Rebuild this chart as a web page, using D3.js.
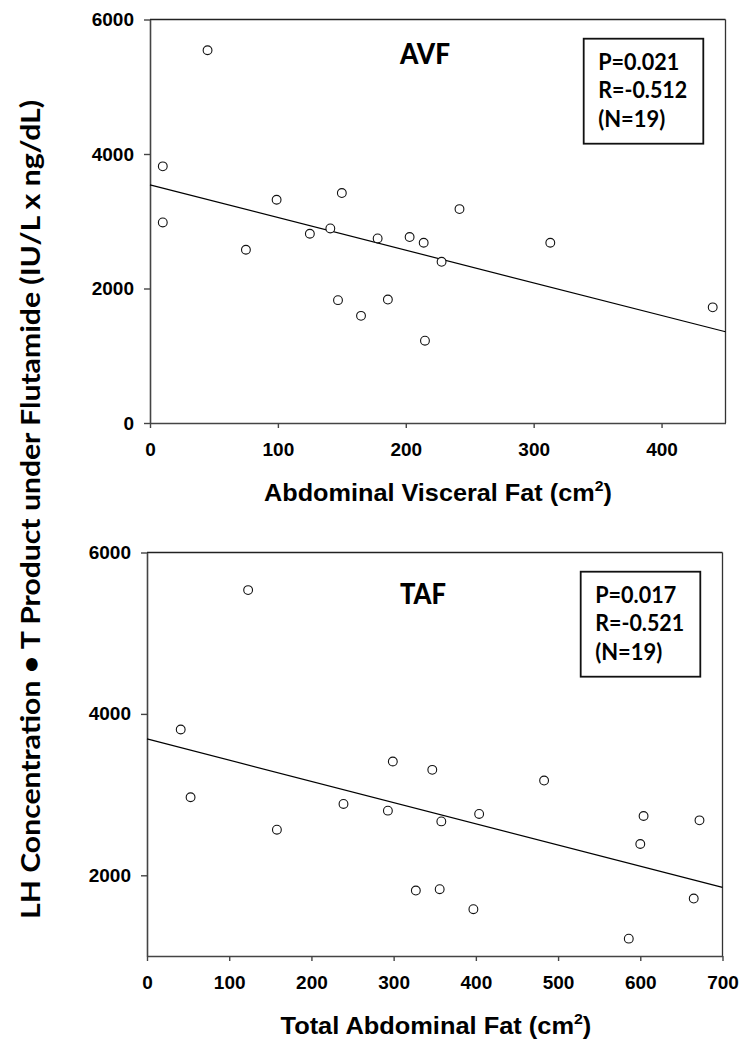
<!DOCTYPE html>
<html><head><meta charset="utf-8">
<script src="https://cdn.jsdelivr.net/npm/d3@7"></script>
<style>body{margin:0;background:#fff} svg{display:block}</style>
</head><body>
<svg id="c" width="750" height="1049"></svg>
<script>
// ---- data ----
const avfX = [45, 10, 10, 99, 150, 75, 125, 141, 178, 203, 214, 228, 242, 147, 186, 165, 215, 313, 440];
const avfY = [5543, 3816, 2982, 3320, 3419, 2576, 2814, 2893, 2744, 2765, 2680, 2397, 3181, 1827, 1836, 1593, 1224, 2680, 1720];
const tafX = [123, 41, 53, 158, 239, 293, 299, 347, 358, 327, 356, 397, 404, 483, 604, 600, 672, 665, 586];
const tafY = [5534, 3807, 2967, 2565, 2884, 2801, 3410, 3307, 2668, 1811, 1828, 1580, 2760, 3174, 2735, 2388, 2681, 1712, 1215];
const avfFitX = [0, 450];
const avfFitY = [3540, 1357];
const tafFitX = [0, 700];
const tafFitY = [3690, 1850];
const xTicksTop = [0, 100, 200, 300, 400];
const xTicksBottom = [0, 100, 200, 300, 400, 500, 600, 700];
const yTicksTop = [0, 2000, 4000, 6000];
const yTicksBottom = [2000, 4000, 6000];
const statsTop = ["P=0.021", "R=-0.512", "(N=19)"];
const statsBottom = ["P=0.017", "R=-0.521", "(N=19)"];
const yTitle = "LH Concentration \u2022 T Product under Flutamide (IU/L x ng/dL)";

const svg = d3.select("#c");
const tickFont = "'Liberation Sans', Arial, sans-serif";
const calFont = "Lato, 'Open Sans', sans-serif";
const fmt = d3.format("d");

function panel(cfg) {
  const x = d3.scaleLinear().domain(cfg.xDomain).range(cfg.xRange);
  const y = d3.scaleLinear().domain(cfg.yDomain).range(cfg.yRange);
  const g = svg.append("g");
  const [x0, x1] = cfg.xRange, [yb, yt] = cfg.yRange;

  // frame top & right
  g.append("line").attr("x1", x0).attr("x2", x1).attr("y1", yt).attr("y2", yt)
    .attr("stroke", "#222").attr("stroke-width", 1.3);
  g.append("line").attr("x1", x1).attr("x2", x1).attr("y1", yt).attr("y2", yb)
    .attr("stroke", "#333").attr("stroke-width", 1.3);

  const ax = g.append("g").attr("transform", `translate(0,${yb})`)
    .call(d3.axisBottom(x).tickValues(cfg.xTicks).tickFormat(fmt).tickSize(5).tickPadding(15).tickSizeOuter(0));
  const ay = g.append("g").attr("transform", `translate(${x0},0)`)
    .call(d3.axisLeft(y).tickValues(cfg.yTicks).tickFormat(fmt).tickSize(6).tickPadding(10).tickSizeOuter(0));
  [ax, ay].forEach(a => {
    a.select(".domain").attr("stroke", "#444").attr("stroke-width", 1.6);
    a.selectAll(".tick line").attr("stroke", "#444").attr("stroke-width", 1.4);
    a.selectAll("text").attr("font-family", tickFont).attr("font-weight", "bold")
      .attr("font-size", 19).attr("fill", "#000");
  });

  // regression line
  g.append("line")
    .attr("x1", x(cfg.fitX[0])).attr("y1", y(cfg.fitY[0]))
    .attr("x2", x(cfg.fitX[1])).attr("y2", y(cfg.fitY[1]))
    .attr("stroke", "#000").attr("stroke-width", 1.2);

  // points
  g.selectAll("circle.pt").data(d3.zip(cfg.px, cfg.py)).join("circle")
    .attr("class", "pt")
    .attr("cx", d => x(d[0])).attr("cy", d => y(d[1])).attr("r", 4.4)
    .attr("fill", "#fff").attr("stroke", "#111").attr("stroke-width", 1.1);

  // panel label
  g.append("text").attr("x", cfg.labelX).attr("y", cfg.labelY)
    .attr("font-family", calFont).attr("font-weight", 900).attr("font-size", 29)
    .attr("textLength", cfg.labelW).attr("lengthAdjust", "spacingAndGlyphs")
    .text(cfg.label);

  // stats box
  const bx = x1 - 141.8, by = yt + 19.2;
  g.append("rect").attr("x", bx).attr("y", by).attr("width", 119.6).attr("height", 105)
    .attr("fill", "#fff").attr("stroke", "#111").attr("stroke-width", 1.8);
  const lens = [81, 89, 67];
  cfg.stats.forEach((s, i) => {
    g.append("text").attr("x", bx + 14.5).attr("y", by + 31.5 + i * 28.2)
      .attr("font-family", calFont).attr("font-weight", "bold").attr("font-size", 23)
      .attr("textLength", lens[i]).attr("lengthAdjust", "spacingAndGlyphs")
      .text(s);
  });

  // x title with superscript
  const t = g.append("text").attr("font-family", tickFont).attr("font-weight", "bold")
    .attr("font-size", 24).attr("fill", "#000");
  t.append("tspan").text(cfg.xTitle + " (cm");
  t.append("tspan").attr("font-size", 15).attr("dy", -10).text("2");
  t.append("tspan").attr("dy", 10).text(")");
  const w = t.node().getBBox().width;
  t.attr("transform", `translate(${cfg.titleCx - cfg.titleW / 2},${cfg.titleY}) scale(${cfg.titleW / w},1)`);
}

panel({
  xDomain: [0, 450], xRange: [150, 725.5],
  yDomain: [0, 6000], yRange: [423, 19.5],
  xTicks: xTicksTop, yTicks: yTicksTop,
  px: avfX, py: avfY, fitX: avfFitX, fitY: avfFitY,
  label: "AVF", labelX: 400, labelY: 63.5, labelW: 50,
  stats: statsTop,
  xTitle: "Abdominal Visceral Fat", titleCx: 438, titleW: 348, titleY: 501
});
panel({
  xDomain: [0, 700], xRange: [147, 722.5],
  yDomain: [1000, 6000], yRange: [956, 552.5],
  xTicks: xTicksBottom, yTicks: yTicksBottom,
  px: tafX, py: tafY, fitX: tafFitX, fitY: tafFitY,
  label: "TAF", labelX: 400, labelY: 604, labelW: 46,
  stats: statsBottom,
  xTitle: "Total Abdominal Fat", titleCx: 436, titleW: 311, titleY: 1034
});

// shared y title
svg.append("text")
  .attr("transform", "translate(40,509.5) rotate(-90)")
  .attr("text-anchor", "middle")
  .attr("font-family", calFont).attr("font-weight", "bold").attr("font-size", 27)
  .attr("textLength", 819).attr("lengthAdjust", "spacingAndGlyphs")
  .text(yTitle);
</script>
</body></html>
